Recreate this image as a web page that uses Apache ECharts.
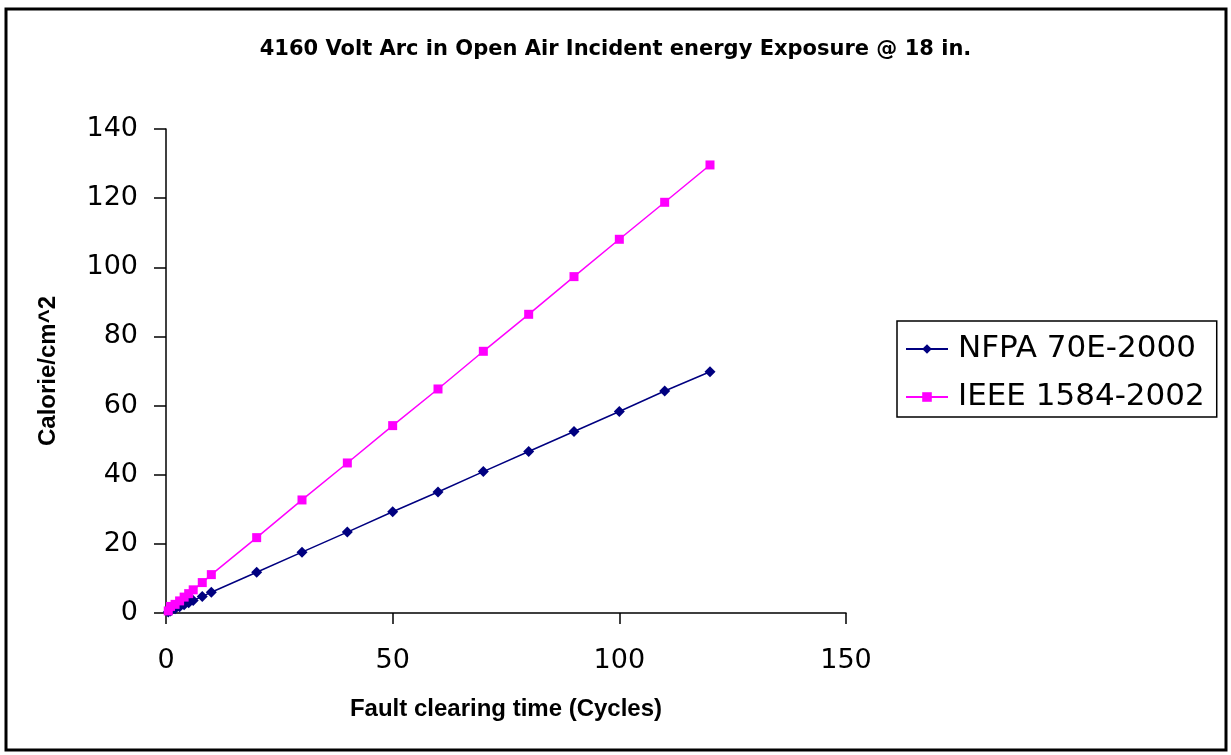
<!DOCTYPE html>
<html>
<head>
<meta charset="utf-8">
<script src="https://cdn.jsdelivr.net/npm/echarts@6/dist/echarts.min.js"></script>
<style>
  html, body { margin: 0; padding: 0; background: #fff; }
  #main { width: 1231px; height: 755px; }
</style>
</head>
<body>
<div id="main"></div>
<script>
var myChart = echarts.init(document.getElementById('main'));

// fault clearing time in cycles
var cycles = [0.5, 1, 2, 3, 4, 5, 6, 8, 10, 20, 30, 40, 50, 60, 70, 80, 90, 100, 110, 120];

// incident energy, cal/cm^2
var nfpa = [0.3, 0.6, 1.2, 1.8, 2.4, 3.0, 3.6, 4.8, 6.0, 11.8, 17.6, 23.4, 29.3, 35.0, 40.9, 46.7, 52.5, 58.3, 64.2, 69.8];
var ieee = [0.6, 1.9, 2.5, 3.5, 4.6, 5.6, 6.7, 8.8, 11.1, 21.8, 32.7, 43.4, 54.2, 64.8, 75.7, 86.4, 97.3, 108.1, 118.8, 129.6];

var wide = 'DejaVu Sans, Verdana, sans-serif';
var narrow = 'Liberation Sans, Arial, sans-serif';

function pairs(ys) {
    return cycles.map(function (x, i) { return [x, ys[i]]; });
}

var option = {
    animation: false,
    backgroundColor: '#fff',
    title: {
        text: '4160 Volt Arc in Open Air Incident energy Exposure @ 18 in.',
        left: 'center',
        top: 34,
        textStyle: { fontFamily: wide, fontSize: 21, fontWeight: 'bold', color: '#000' }
    },
    graphic: [{
        type: 'rect',
        shape: { x: 6, y: 9, width: 1220, height: 741 },
        style: { fill: 'none', stroke: '#000', lineWidth: 3 },
        silent: true
    }],
    legend: {
        orient: 'vertical',
        left: 897,
        top: 321,
        padding: [12, 12, 4, 8],
        itemGap: 16,
        itemWidth: 42,
        itemHeight: 12,
        borderColor: '#000',
        borderWidth: 1.5,
        textStyle: { fontFamily: wide, fontSize: 31, color: '#000', lineHeight: 32, padding: [0, 0, 0, 5] },
        data: ['NFPA 70E-2000', 'IEEE 1584-2002']
    },
    grid: { left: 166, top: 129, width: 680, height: 484 },
    xAxis: {
        type: 'value',
        min: 0,
        max: 150,
        interval: 50,
        name: 'Fault clearing time (Cycles)',
        nameLocation: 'middle',
        nameGap: 84,
        nameTextStyle: { fontFamily: narrow, fontSize: 24, fontWeight: 'bold', color: '#000' },
        splitLine: { show: false },
        axisLine: { lineStyle: { color: '#000', width: 1.5 } },
        axisTick: { length: 11, lineStyle: { color: '#000', width: 1.5 } },
        axisLabel: { fontFamily: wide, fontSize: 27, color: '#000', margin: 34 }
    },
    yAxis: {
        type: 'value',
        min: 0,
        max: 140,
        interval: 20,
        name: 'Calorie/cm^2',
        nameLocation: 'middle',
        nameGap: 106,
        nameTextStyle: { fontFamily: narrow, fontSize: 24, fontWeight: 'bold', color: '#000' },
        splitLine: { show: false },
        axisLine: { show: true, lineStyle: { color: '#000', width: 1.5 } },
        axisTick: { show: true, length: 12, lineStyle: { color: '#000', width: 1.5 } },
        axisLabel: { fontFamily: wide, fontSize: 27, color: '#000', margin: 28 }
    },
    series: [{
        name: 'NFPA 70E-2000',
        type: 'line',
        data: pairs(nfpa),
        symbol: 'diamond',
        symbolSize: 11,
        color: '#000080',
        lineStyle: { width: 1.5, color: '#000080' },
        itemStyle: { color: '#000080' }
    }, {
        name: 'IEEE 1584-2002',
        type: 'line',
        data: pairs(ieee),
        symbol: 'rect',
        symbolSize: 9,
        color: '#ff00ff',
        lineStyle: { width: 1.5, color: '#ff00ff' },
        itemStyle: { color: '#ff00ff' }
    }]
};

myChart.setOption(option);
</script>
</body>
</html>
